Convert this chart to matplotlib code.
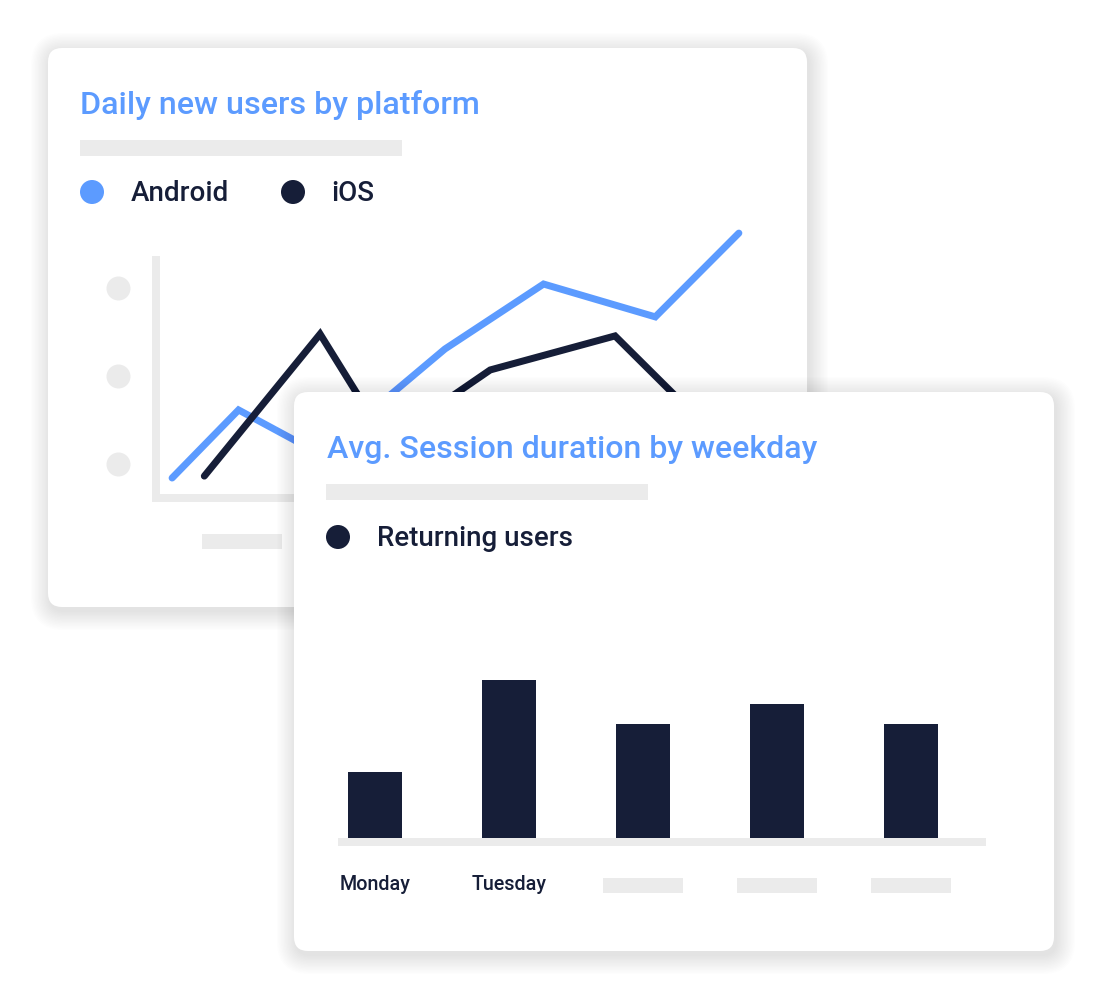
import matplotlib
matplotlib.use("Agg")
import matplotlib.pyplot as plt
from matplotlib.patches import FancyBboxPatch, Circle, Rectangle

# === Dane ===
line_title = "Daily new users by platform"
series_names = ["Android", "iOS"]
android_x = [1.6, 8.2, 16.3, 28.7, 38.5, 49.6, 57.9]
android_y = [84, 370, 185, 626, 899, 761, 1113]
ios_x = [4.8, 16.3, 22.9, 33.2, 45.6, 56.0]
ios_y = [92, 689, 239, 538, 681, 244]
ytick_placeholders = [143, 513, 882]

bar_title = "Avg. Session duration by weekday"
bar_series = "Returning users"
weekdays = ["Monday", "Tuesday", "", "", ""]
session_minutes = [3.3, 7.9, 5.7, 6.7, 5.7]

# === Kolory ===
BLUE = "#5c9bff"
NAVY = "#161e38"
GREY = "#ebebeb"
FONT = "Roboto"

W, H = 1096, 1000
fig = plt.figure(figsize=(W / 100, H / 100), dpi=100)
fig.patch.set_facecolor("white")


def px_axes(z):
    ax = fig.add_axes([0, 0, 1, 1])
    ax.set_xlim(0, W)
    ax.set_ylim(H, 0)
    ax.axis("off")
    ax.set_zorder(z)
    return ax


def card(ax, x0, y0, x1, y1):
    # miekki cien
    for i in range(14):
        g = 1 + i * 1.4
        ax.add_patch(FancyBboxPatch((x0 - g + 2, y0 - g + 4), x1 - x0 + 2 * g, y1 - y0 + 2 * g,
                                    boxstyle="round,pad=0,rounding_size=%f" % (14 + g),
                                    fc="black", ec="none", alpha=0.0065))
    ax.add_patch(FancyBboxPatch((x0, y0), x1 - x0, y1 - y0,
                                boxstyle="round,pad=0,rounding_size=14",
                                fc="white", ec="none"))


def legend_item(ax, cx, cy, color, label, tx):
    ax.add_patch(Circle((cx, cy), 12, fc=color, ec="none"))
    ax.text(tx, cy + 1.5, label, fontsize=20, family=FONT, weight="medium", color=NAVY,
            va="center", ha="left")


# === Karta 1 ===
bg1 = px_axes(0)
card(bg1, 48, 48, 807, 607)
bg1.text(80, 105, line_title, fontsize=23.2, family=FONT, weight="medium", color=BLUE,
         va="center", ha="left")
bg1.add_patch(Rectangle((80, 140), 322, 16, fc=GREY, ec="none"))
legend_item(bg1, 92, 192, BLUE, series_names[0], 131)
legend_item(bg1, 293, 192, NAVY, series_names[1], 331)
bg1.add_patch(Rectangle((202, 534), 80, 15, fc=GREY, ec="none"))

ax1 = fig.add_axes([156 / W, 1 - 498 / H, 604 / W, 238 / H])
ax1.set_zorder(1)
ax1.patch.set_visible(False)
ax1.set_xlim(0, 60)
ax1.set_ylim(0, 1000)
for s in ["top", "right"]:
    ax1.spines[s].set_visible(False)
for s in ["left", "bottom"]:
    ax1.spines[s].set_color(GREY)
    ax1.spines[s].set_linewidth(8 * 0.72)
    ax1.spines[s].set_capstyle("projecting")
ax1.set_xticks([])
ax1.set_yticks([])
ax1.plot(android_x, android_y, color=BLUE, lw=7 * 0.72, solid_capstyle="round",
         solid_joinstyle="miter", clip_on=False)
ax1.plot(ios_x, ios_y, color=NAVY, lw=7 * 0.72, solid_capstyle="round",
         solid_joinstyle="miter", clip_on=False)
ax1.scatter([-3.77] * len(ytick_placeholders), ytick_placeholders, s=(24 * 0.72) ** 2,
            color=GREY, clip_on=False, linewidths=0)

# === Karta 2 ===
bg2 = px_axes(2)
card(bg2, 294, 392, 1054, 951)
bg2.text(327, 449, bar_title, fontsize=23.1, family=FONT, weight="medium", color=BLUE,
         va="center", ha="left")
bg2.add_patch(Rectangle((326, 484), 322, 16, fc=GREY, ec="none"))
legend_item(bg2, 338, 537, NAVY, bar_series, 377)

ax2 = fig.add_axes([308 / W, 1 - 838 / H, 670 / W, 160 / H])
ax2.set_zorder(3)
ax2.patch.set_visible(False)
ax2.set_xlim(-0.5, 4.5)
ax2.set_ylim(0, 8)
for s in ax2.spines.values():
    s.set_visible(False)
ax2.axhline(-0.2, xmin=0.045, xmax=1.012, color=GREY, lw=8 * 0.72, clip_on=False,
            solid_capstyle="butt", zorder=1)
ax2.bar(range(len(session_minutes)), session_minutes, width=0.4, color=NAVY, zorder=2)
ax2.set_yticks([])
ax2.set_xticks(range(len(weekdays)))
ax2.set_xticklabels(weekdays, family=FONT, fontsize=14.2, weight="medium", color=NAVY)
ax2.tick_params(axis="x", length=0, pad=27)
for i, name in enumerate(weekdays):
    if not name:
        ax2.add_patch(Rectangle((i - 0.3, -2.0), 0.6, -0.75, fc=GREY, ec="none", clip_on=False))

fig.savefig("out.png", dpi=100, facecolor="white")
